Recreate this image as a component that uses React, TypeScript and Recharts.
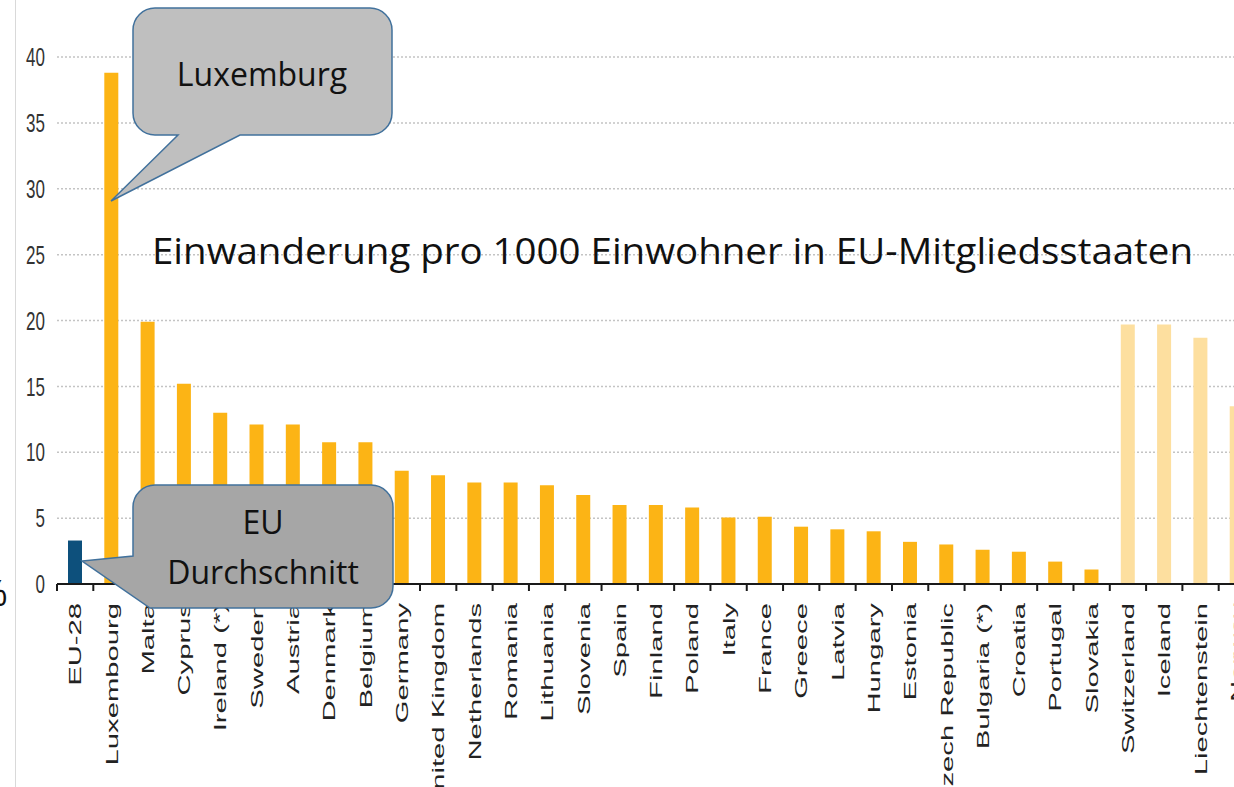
import React from 'react';
import { BarChart, Bar, XAxis, YAxis, CartesianGrid, Cell } from 'recharts';

const categories = [
  'EU-28', 'Luxembourg', 'Malta', 'Cyprus', 'Ireland (*)', 'Sweden', 'Austria', 'Denmark', 'Belgium',
  'Germany', 'United Kingdom', 'Netherlands', 'Romania', 'Lithuania', 'Slovenia', 'Spain', 'Finland',
  'Poland', 'Italy', 'France', 'Greece', 'Latvia', 'Hungary', 'Estonia', 'Czech Republic', 'Bulgaria (*)',
  'Croatia', 'Portugal', 'Slovakia', 'Switzerland', 'Iceland', 'Liechtenstein', 'Norway',
];

const values = [
  3.3, 38.8, 19.9, 15.2, 13.0, 12.1, 12.1, 10.75, 10.75,
  8.6, 8.25, 7.7, 7.7, 7.5, 6.75, 6.0, 6.0,
  5.8, 5.05, 5.1, 4.35, 4.15, 4.0, 3.2, 3.0, 2.6,
  2.45, 1.7, 1.1, 19.7, 19.7, 18.7, 13.5,
];

const groups = [
  'eu', 'member', 'member', 'member', 'member', 'member', 'member', 'member', 'member',
  'member', 'member', 'member', 'member', 'member', 'member', 'member', 'member',
  'member', 'member', 'member', 'member', 'member', 'member', 'member', 'member', 'member',
  'member', 'member', 'member', 'efta', 'efta', 'efta', 'efta',
];

const yTicks = [0, 5, 10, 15, 20, 25, 30, 35, 40];

const title = 'Einwanderung pro 1000 Einwohner in EU-Mitgliedsstaaten';
const calloutTop = 'Luxemburg';
const calloutBottom = ['EU', 'Durchschnitt'];

const colors: Record<string, string> = {
  eu: '#0d507c',
  member: '#fcb415',
  efta: '#fddf9f',
};

const data = categories.map((name, i) => ({ name, value: values[i], group: groups[i] }));

const CHART_W = 1300;
const CHART_H = 787;
const Y_AXIS_W = 57;
const MARGIN = { top: 57, right: 45, left: 0, bottom: 0 };
const BAND = (CHART_W - Y_AXIS_W - MARGIN.left - MARGIN.right) / categories.length;

const XTick = (props: any) => {
  const { x, y, payload } = props;
  return (
    <g>
      <line x1={x - BAND / 2} x2={x - BAND / 2} y1={y} y2={y + 7} stroke="#1a1a1a" strokeWidth={2} />
      <text
        transform={`translate(${x},${y + 19}) rotate(-90) scale(1.72,1)`}
        textAnchor="end"
        dy="0.36em"
        fontSize={17}
        fontFamily="'Liberation Sans', Arial, sans-serif"
        fill="#222"
      >
        {payload.value}
      </text>
    </g>
  );
};

const YTick = (props: any) => {
  const { x, y, payload } = props;
  return (
    <text
      transform={`translate(${x - 12},${y}) scale(1,1.5)`}
      textAnchor="end"
      dy="0.36em"
      fontSize={17}
      fontFamily="'Liberation Sans', Arial, sans-serif"
      fill="#333"
    >
      {payload.value}
    </text>
  );
};

const Callouts = () => (
  <svg
    width={1234}
    height={787}
    style={{ position: 'absolute', left: 0, top: 0, pointerEvents: 'none' }}
  >
    <line x1={15.5} x2={15.5} y1={0} y2={787} stroke="#d9d9d9" strokeWidth={1} />
    <text x={-22} y={606} fontSize={36} fontFamily="'Open Sans', sans-serif" fill="#111">%</text>
    <text
      x={152}
      y={264}
      fontSize={36}
      fontFamily="'Open Sans', sans-serif"
      fill="#111"
      textLength={1041}
      lengthAdjust="spacingAndGlyphs"
    >
      {title}
    </text>
    <path
      d="M155,8 L370,8 A22,22 0 0 1 392,30 L392,113 A22,22 0 0 1 370,135 L240,135 L111,201 L178,135 L155,135 A22,22 0 0 1 133,113 L133,30 A22,22 0 0 1 155,8 Z"
      fill="#bfbfbf"
      stroke="#41719c"
      strokeWidth={1.5}
    />
    <text x={262} y={86} textAnchor="middle" fontSize={32} fontFamily="'Open Sans', sans-serif" fill="#111">
      {calloutTop}
    </text>
    <path
      d="M155,485 L371,485 A22,22 0 0 1 393,507 L393,586 A22,22 0 0 1 371,608 L150,608 L82,561 L133,556 L133,507 A22,22 0 0 1 155,485 Z"
      fill="#a6a6a6"
      stroke="#41719c"
      strokeWidth={1.5}
    />
    <text x={263} y={534} textAnchor="middle" fontSize={32} fontFamily="'Open Sans', sans-serif" fill="#111">
      {calloutBottom[0]}
    </text>
    <text x={263} y={584} textAnchor="middle" fontSize={32} fontFamily="'Open Sans', sans-serif" fill="#111">
      {calloutBottom[1]}
    </text>
  </svg>
);

export default function App() {
  return (
    <div
      style={{
        position: 'absolute',
        left: 0,
        top: 0,
        width: 1234,
        height: 787,
        overflow: 'hidden',
        background: '#fff',
      }}
    >
      <BarChart width={CHART_W} height={CHART_H} data={data} margin={MARGIN}>
        <CartesianGrid vertical={false} stroke="#c4c4c4" strokeDasharray="2 2" strokeWidth={1.5} />
        <XAxis
          dataKey="name"
          interval={0}
          height={CHART_H - 584}
          tickSize={0}
          tickMargin={0}
          tickLine={false}
          axisLine={{ stroke: '#1a1a1a', strokeWidth: 2 }}
          tick={<XTick />}
        />
        <YAxis
          width={Y_AXIS_W}
          domain={[0, 40]}
          ticks={yTicks}
          interval={0}
          tickSize={0}
          tickMargin={0}
          axisLine={false}
          tickLine={false}
          tick={<YTick />}
        />
        <Bar dataKey="value" barSize={14} isAnimationActive={false}>
          {data.map((d, i) => (
            <Cell key={i} fill={colors[d.group]} />
          ))}
        </Bar>
      </BarChart>
      <Callouts />
    </div>
  );
}
